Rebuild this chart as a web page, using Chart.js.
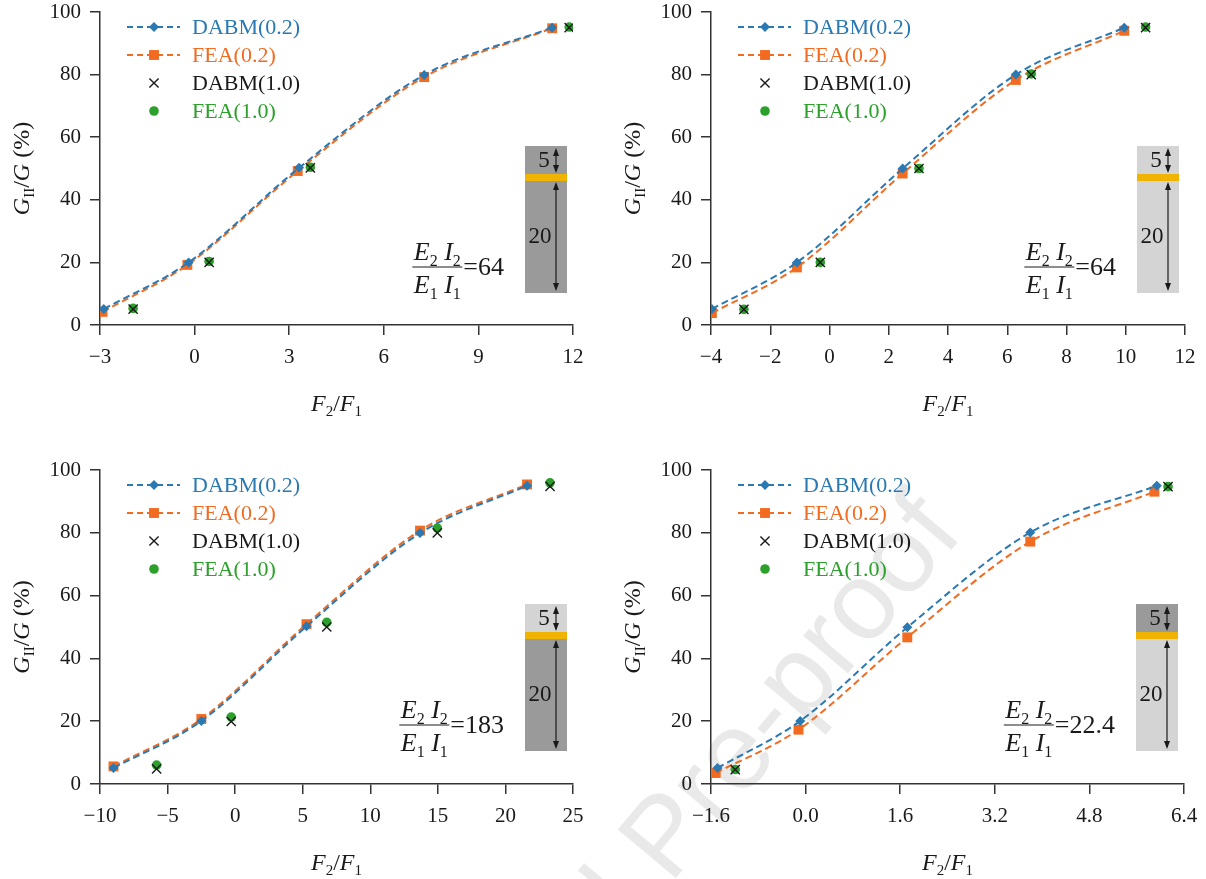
<!DOCTYPE html>
<html lang="en">
<head>
<meta charset="UTF-8">
<title>Mode II fraction versus force ratio</title>
<script src="https://cdn.jsdelivr.net/npm/chart.js"></script>
<style>
  body { margin: 0; background: #fff; }
  #page { position: relative; width: 1206px; height: 879px; overflow: hidden; }
  #mark { position: absolute; left: 0; top: 0; }
  .panel { position: absolute; }
</style>
</head>
<body>
<div id="page">
  <svg id="mark" width="1206" height="879">
    <g font-family="Liberation Sans, Arial, sans-serif" font-size="110" fill="#e9e9e9" transform="rotate(-50 670 885)">
      <text x="639" y="885" text-anchor="end">Journal</text>
      <text x="670" y="885">Pre-proof</text>
    </g>
  </svg>
  <canvas class="panel" id="c1" width="600" height="440" style="left:0;top:0"></canvas>
  <canvas class="panel" id="c2" width="606" height="440" style="left:600px;top:0"></canvas>
  <canvas class="panel" id="c3" width="600" height="439" style="left:0;top:440px"></canvas>
  <canvas class="panel" id="c4" width="606" height="439" style="left:600px;top:440px"></canvas>
</div>

<script>
// ---- data ----
const yTicks = [0, 20, 40, 60, 80, 100];

// (a) E2I2/E1I1 = 64
const aTicks = [-3, 0, 3, 6, 9, 12];
const aDabm02X = [-2.88, -0.19, 3.31, 7.28, 11.34];
const aDabm02Y = [5.1, 20.0, 50.2, 79.9, 95.0];
const aFea02X = [-2.92, -0.23, 3.27, 7.28, 11.34];
const aFea02Y = [4.2, 19.2, 49.2, 79.2, 94.8];
const aDabm10X = [-1.95, 0.46, 3.67, 11.88];
const aDabm10Y = [5.1, 20.0, 50.2, 95.0];
const aFea10X = [-1.95, 0.46, 3.67, 11.88];
const aFea10Y = [5.3, 20.3, 50.4, 95.2];

// (b) E2I2/E1I1 = 64
const bTicks = [-4, -2, 0, 2, 4, 6, 8, 10, 12];
const bDabm02X = [-3.97, -1.10, 2.47, 6.29, 9.95];
const bDabm02Y = [5.1, 20.0, 50.0, 80.0, 95.0];
const bFea02X = [-3.97, -1.10, 2.47, 6.29, 9.95];
const bFea02Y = [3.8, 18.4, 48.4, 78.3, 94.0];
const bDabm10X = [-2.89, -0.31, 3.02, 6.81, 10.67];
const bDabm10Y = [5.0, 20.0, 50.0, 80.0, 95.0];
const bFea10X = [-2.89, -0.31, 3.02, 6.81, 10.67];
const bFea10Y = [5.0, 20.0, 50.0, 80.2, 95.2];

// (c) E2I2/E1I1 = 183
const cTicks = [-10, -5, 0, 5, 10, 15, 20, 25];
const cDabm02X = [-9.0, -2.5, 5.28, 13.68, 21.6];
const cDabm02Y = [5.1, 20.1, 50.2, 79.9, 95.0];
const cFea02X = [-9.0, -2.5, 5.28, 13.68, 21.6];
const cFea02Y = [5.6, 20.7, 50.9, 80.7, 95.4];
const cDabm10X = [-5.81, -0.29, 6.78, 14.96, 23.3];
const cDabm10Y = [4.8, 19.9, 50.0, 80.0, 94.8];
const cFea10X = [-5.81, -0.29, 6.78, 14.96, 23.3];
const cFea10Y = [6.0, 21.3, 51.5, 81.5, 95.9];

// (d) E2I2/E1I1 = 22.4
const dTicks = [-1.6, 0.0, 1.6, 3.2, 4.8, 6.4];
const dDabm02X = [-1.49, -0.09, 1.72, 3.80, 5.94];
const dDabm02Y = [5.1, 20.1, 49.9, 80.1, 95.0];
const dFea02X = [-1.52, -0.12, 1.72, 3.80, 5.90];
const dFea02Y = [3.5, 17.3, 46.7, 77.2, 93.1];
const dDabm10X = [-1.19, 6.13];
const dDabm10Y = [4.6, 94.7];
const dFea10X = [-1.19, 6.13];
const dFea10Y = [4.6, 94.7];

const seriesNames = ['DABM(0.2)', 'FEA(0.2)', 'DABM(1.0)', 'FEA(1.0)'];

// ---- styling ----
const SERIF = '"Liberation Serif", "Times New Roman", serif';
const BLUE = '#2b79b3';
const ORANGE = '#f26b21';
const GREEN = '#2ba02b';
const INK = '#1a1a1a';
const DARK_GRAY = '#9a9a9a';
const LIGHT_GRAY = '#d4d4d4';
const YELLOW = '#f0b400';

function pts(xs, ys) {
    return xs.map((x, i) => ({ x: x, y: ys[i] }));
}

function fontFor(style, size) {
    if (style === 'i') return 'italic ' + size + 'px ' + SERIF;
    if (style === 's') return Math.round(size * 0.62) + 'px ' + SERIF;
    return size + 'px ' + SERIF;
}

// parts: [text, style] with style r = roman, i = italic, s = subscript
function richWidth(ctx, parts, size) {
    let w = 0;
    parts.forEach(p => {
        ctx.font = fontFor(p[1], size);
        w += ctx.measureText(p[0]).width;
    });
    return w;
}

function drawRich(ctx, parts, x, y, size, align) {
    const w = richWidth(ctx, parts, size);
    let cx = align === 'center' ? x - w / 2 : (align === 'right' ? x - w : x);
    ctx.textBaseline = 'alphabetic';
    ctx.textAlign = 'left';
    parts.forEach(p => {
        ctx.font = fontFor(p[1], size);
        ctx.fillText(p[0], cx, y + (p[1] === 's' ? size * 0.22 : 0));
        cx += ctx.measureText(p[0]).width;
    });
    return w;
}

function drawMarker(ctx, style, r, x, y) {
    ctx.beginPath();
    if (style === 'rectRot') {
        ctx.moveTo(x, y - r); ctx.lineTo(x + r, y); ctx.lineTo(x, y + r); ctx.lineTo(x - r, y);
        ctx.closePath(); ctx.fill();
    } else if (style === 'rect') {
        const s = r * Math.SQRT1_2;
        ctx.rect(x - s, y - s, 2 * s, 2 * s); ctx.fill();
    } else if (style === 'crossRot') {
        const s = r * Math.SQRT1_2;
        ctx.moveTo(x - s, y - s); ctx.lineTo(x + s, y + s);
        ctx.moveTo(x - s, y + s); ctx.lineTo(x + s, y - s);
        ctx.stroke();
    } else {
        ctx.arc(x, y, r, 0, Math.PI * 2); ctx.fill();
    }
}

function drawArrow(ctx, x, y1, y2) {
    const hl = 8, hw = 3;
    ctx.beginPath();
    ctx.moveTo(x, y1 + 2); ctx.lineTo(x, y2 - 2); ctx.stroke();
    ctx.beginPath();
    ctx.moveTo(x, y1); ctx.lineTo(x - hw, y1 + hl); ctx.lineTo(x + hw, y1 + hl); ctx.closePath();
    ctx.moveTo(x, y2); ctx.lineTo(x - hw, y2 - hl); ctx.lineTo(x + hw, y2 - hl); ctx.closePath();
    ctx.fill();
}

const decoPlugin = {
    id: 'deco',
    afterDraw(chart) {
        const ctx = chart.ctx;
        const ca = chart.chartArea;
        const cfg = chart.options.deco;
        ctx.save();

        // axis titles
        ctx.fillStyle = INK;
        drawRich(ctx, [['F', 'i'], ['2', 's'], ['/', 'r'], ['F', 'i'], ['1', 's']],
            (ca.left + ca.right) / 2, ca.bottom + 86, 24, 'center');
        ctx.save();
        ctx.translate(ca.left - 79, (ca.top + ca.bottom) / 2);
        ctx.rotate(-Math.PI / 2);
        drawRich(ctx, [['G', 'i'], ['II', 's'], ['/', 'r'], ['G', 'i'], [' (%)', 'r']], 0, 8, 24, 'center');
        ctx.restore();

        // legend
        const legendDs = [0, 1, 2, 3].map(k => chart.data.datasets.find(d => d.legendIndex === k));
        legendDs.forEach((ds, i) => {
            const y = ca.top + 15 + 28 * i;
            if (ds.showLine) {
                ctx.strokeStyle = ds.borderColor;
                ctx.lineWidth = 2;
                ctx.setLineDash([6, 4]);
                ctx.beginPath();
                ctx.moveTo(ca.left + 27, y); ctx.lineTo(ca.left + 80, y);
                ctx.stroke();
                ctx.setLineDash([]);
            }
            ctx.fillStyle = ds.backgroundColor;
            ctx.strokeStyle = ds.pointBorderColor || ds.borderColor;
            ctx.lineWidth = ds.pointBorderWidth || 1;
            drawMarker(ctx, ds.pointStyle, ds.pointRadius, ca.left + 54, y);
            ctx.fillStyle = ds.textColor;
            ctx.font = '22px ' + SERIF;
            ctx.textAlign = 'left';
            ctx.textBaseline = 'middle';
            ctx.fillText(ds.label, ca.left + 92, y + 1);
        });

        // stiffness ratio label
        const fs = 26;
        const ly = ca.top + 255;
        const rightEdge = ca.right - 69;
        ctx.fillStyle = INK;
        ctx.font = fs + 'px ' + SERIF;
        const valW = ctx.measureText('=' + cfg.ratio).width;
        const fx = rightEdge - valW - 26;
        ctx.textAlign = 'left';
        ctx.textBaseline = 'alphabetic';
        ctx.fillText('=' + cfg.ratio, rightEdge - valW, ly + 8);
        ctx.strokeStyle = INK;
        ctx.lineWidth = 1;
        ctx.beginPath();
        ctx.moveTo(fx - 25, ly); ctx.lineTo(fx + 25, ly);
        ctx.stroke();
        drawRich(ctx, [['E', 'i'], ['2', 's'], [' ', 'r'], ['I', 'i'], ['2', 's']], fx, ly - 7, fs, 'center');
        drawRich(ctx, [['E', 'i'], ['1', 's'], [' ', 'r'], ['I', 'i'], ['1', 's']], fx, ly + 26, fs, 'center');

        // beam cross-section sketch
        const rx = ca.right - 48, ry = ca.top + 134, rw = 42, rh = 147;
        ctx.fillStyle = cfg.topColor;
        ctx.fillRect(rx, ry, rw, 28);
        ctx.fillStyle = cfg.bottomColor;
        ctx.fillRect(rx, ry + 35, rw, rh - 35);
        ctx.fillStyle = YELLOW;
        ctx.fillRect(rx, ry + 28, rw, 7);
        ctx.fillStyle = INK;
        ctx.strokeStyle = INK;
        ctx.lineWidth = 1.2;
        drawArrow(ctx, rx + 31, ry + 2, ry + 27);
        drawArrow(ctx, rx + 31, ry + 36, ry + rh - 2);
        ctx.font = '23px ' + SERIF;
        ctx.textAlign = 'center';
        ctx.textBaseline = 'middle';
        ctx.fillText('5', rx + 19, ry + 15);
        ctx.fillText('20', rx + 15, ry + 91);

        ctx.restore();
    }
};

function makeDatasets(d02x, d02y, f02x, f02y, d10x, d10y, f10x, f10y) {
    return [
        {
            label: seriesNames[2], legendIndex: 2, textColor: INK,
            data: pts(d10x, d10y), showLine: false,
            pointStyle: 'crossRot', pointRadius: 6.5, pointBorderWidth: 1.4,
            borderColor: INK, backgroundColor: INK, pointBorderColor: INK, order: 0
        },
        {
            label: seriesNames[3], legendIndex: 3, textColor: GREEN,
            data: pts(f10x, f10y), showLine: false,
            pointStyle: 'circle', pointRadius: 4.8, pointBorderWidth: 0,
            borderColor: GREEN, backgroundColor: GREEN, order: 1
        },
        {
            label: seriesNames[0], legendIndex: 0, textColor: BLUE,
            data: pts(d02x, d02y), showLine: true,
            borderColor: BLUE, backgroundColor: BLUE, borderWidth: 2, borderDash: [7, 4],
            cubicInterpolationMode: 'monotone',
            pointStyle: 'rectRot', pointRadius: 5, pointBorderWidth: 0, order: 2
        },
        {
            label: seriesNames[1], legendIndex: 1, textColor: ORANGE,
            data: pts(f02x, f02y), showLine: true,
            borderColor: ORANGE, backgroundColor: ORANGE, borderWidth: 2, borderDash: [7, 4],
            cubicInterpolationMode: 'monotone',
            pointStyle: 'rect', pointRadius: 7, pointBorderWidth: 0, order: 3
        }
    ];
}

function makePanel(p) {
    const canvas = document.getElementById(p.id);
    const W = canvas.width, H = canvas.height;
    const tickFont = { family: SERIF, size: 21 };
    return new Chart(canvas.getContext('2d'), {
        type: 'scatter',
        data: { datasets: p.datasets },
        options: {
            responsive: false,
            animation: false,
            devicePixelRatio: 1,
            events: [],
            layout: { autoPadding: false, padding: { left: 0, top: p.top, right: W - p.right, bottom: 0 } },
            plugins: { legend: { display: false }, tooltip: { enabled: false } },
            deco: { ratio: p.ratio, topColor: p.topColor, bottomColor: p.bottomColor },
            scales: {
                x: {
                    type: 'linear', position: 'bottom',
                    min: p.xTicks[0], max: p.xTicks[p.xTicks.length - 1],
                    afterBuildTicks: s => { s.ticks = p.xTicks.map(v => ({ value: v })); },
                    afterFit: s => {
                        s.height = H - p.bottom;
                        s.paddingLeft = 0;
                        s.paddingRight = 0;
                    },
                    ticks: {
                        font: tickFont, color: INK, padding: 10, maxRotation: 0, autoSkip: false,
                        callback: v => (p.decimals ? v.toFixed(p.decimals) : String(v)).replace('-', '\u2212')
                    },
                    grid: { drawOnChartArea: false, tickLength: 10, color: '#333', lineWidth: 1.5 },
                    border: { color: '#333', width: 1.5 }
                },
                y: {
                    type: 'linear', position: 'left', min: 0, max: 100,
                    afterBuildTicks: s => { s.ticks = yTicks.map(v => ({ value: v })); },
                    afterFit: s => {
                        s.width = p.left;
                        s.paddingTop = 0;
                        s.paddingBottom = 0;
                    },
                    ticks: { font: tickFont, color: INK, padding: 9 },
                    grid: { drawOnChartArea: false, tickLength: 10, color: '#333', lineWidth: 1.5 },
                    border: { color: '#333', width: 1.5 }
                }
            }
        },
        plugins: [decoPlugin]
    });
}

makePanel({
    id: 'c1', left: 100, right: 573, top: 12, bottom: 325, xTicks: aTicks, decimals: 0,
    ratio: '64', topColor: DARK_GRAY, bottomColor: DARK_GRAY,
    datasets: makeDatasets(aDabm02X, aDabm02Y, aFea02X, aFea02Y, aDabm10X, aDabm10Y, aFea10X, aFea10Y)
});
makePanel({
    id: 'c2', left: 111, right: 585, top: 12, bottom: 325, xTicks: bTicks, decimals: 0,
    ratio: '64', topColor: LIGHT_GRAY, bottomColor: LIGHT_GRAY,
    datasets: makeDatasets(bDabm02X, bDabm02Y, bFea02X, bFea02Y, bDabm10X, bDabm10Y, bFea10X, bFea10Y)
});
makePanel({
    id: 'c3', left: 100, right: 573, top: 30, bottom: 344, xTicks: cTicks, decimals: 0,
    ratio: '183', topColor: LIGHT_GRAY, bottomColor: DARK_GRAY,
    datasets: makeDatasets(cDabm02X, cDabm02Y, cFea02X, cFea02Y, cDabm10X, cDabm10Y, cFea10X, cFea10Y)
});
makePanel({
    id: 'c4', left: 111, right: 584, top: 30, bottom: 344, xTicks: dTicks, decimals: 1,
    ratio: '22.4', topColor: DARK_GRAY, bottomColor: LIGHT_GRAY,
    datasets: makeDatasets(dDabm02X, dDabm02Y, dFea02X, dFea02Y, dDabm10X, dDabm10Y, dFea10X, dFea10Y)
});
</script>
</body>
</html>
